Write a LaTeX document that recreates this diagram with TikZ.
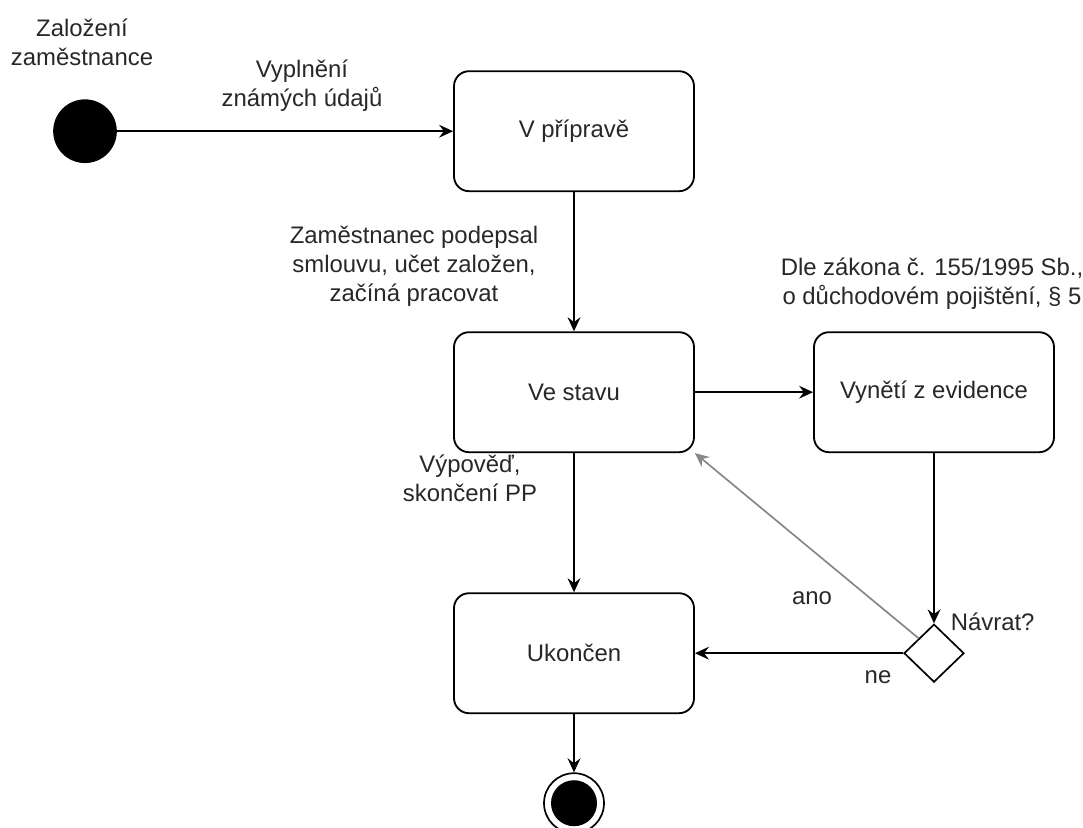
\documentclass[tikz,border=0pt]{standalone}
\usepackage{fontspec}
\setmainfont{Liberation Sans}
\usetikzlibrary{shapes.geometric,arrows.meta}
\definecolor{txtgray}{RGB}{40,40,40}
\definecolor{anogray}{RGB}{135,135,135}
\begin{document}
\begin{tikzpicture}[
        font=\fontsize{17}{20.6}\selectfont, text=txtgray,
        box/.style={draw, rectangle, rounded corners=0.375cm, line width=1.3pt,
            minimum width=6cm, minimum height=3cm},
        txt/.style={align=center, inner sep=0pt},
        every path/.style={line width=1.2pt},
        arr/.style={-{Stealth[length=0.35cm, width=0.32cm, inset=0.12cm]}}
    ]
        \useasboundingbox [fill=white] (0,0) rectangle (27.075,-20.7);

        % Nodes
        \node (init) [draw, circle, fill=black, minimum size=1.55cm] at (2.125,-3.28) {};
        \node (priprava) [box, right of=init, node distance=12.225cm] {V přípravě};
        \node (stav) [box, below of=priprava, node distance=6.525cm] {Ve stavu};
        \node (vyneti) [box, right of=stav, node distance=9cm] {Vynětí z evidence};
        \node (ukoncen) [box, below of=stav, node distance=6.525cm] {Ukončen};
        \node (navrat) [draw, diamond, minimum width=1.5cm, minimum height=1.45cm,
            inner sep=0pt, line width=1.2pt, right of=ukoncen, node distance=9cm] {};
        \node (konec) [draw, circle, minimum size=1.5cm, line width=1.2pt,
            below of=ukoncen, node distance=3.75cm,
            path picture={\fill[black] (path picture bounding box.center) circle (0.575cm);}] {};

        % Labels
        \node (zalozeni) [txt] at (2.05,-1.05) {Založení\\zaměstnance};
        \node (vyplneni) [txt] at (7.55,-2.15) {Vyplnění\\známých údajů};
        \node (podepsal) [txt] at (10.35,-6.65) {Zaměstnanec podepsal\\smlouvu, učet založen,\\začíná pracovat};
        \node (zakon) [txt] at (23.3,-7.08) {Dle zákona č. 155/1995 Sb.,\\o důchodovém pojištění, § 5};
        \node (vypoved) [txt] at (11.75,-11.95) {Výpověď,\\skončení PP};
        \node (ano) [txt] at (20.3,-14.95) {ano};
        \node (ne) [txt] at (21.95,-16.925) {ne};
        \node (navrat_lbl) [txt, anchor=west] at (23.75,-15.55) {Návrat?};

        % Arrows
        \draw [arr] (init) -- (priprava);
        \draw [arr] (priprava) -- (stav);
        \draw [arr] (stav) -- (vyneti);
        \draw [arr] (stav) -- (ukoncen);
        \draw [arr] (vyneti) -- (navrat);
        \draw [arr] (navrat) -- (ukoncen);
        \draw [arr, anogray] (navrat.north west) -- (stav.south east);
        \draw [arr] (ukoncen) -- (konec);

    \end{tikzpicture}
\end{document}
